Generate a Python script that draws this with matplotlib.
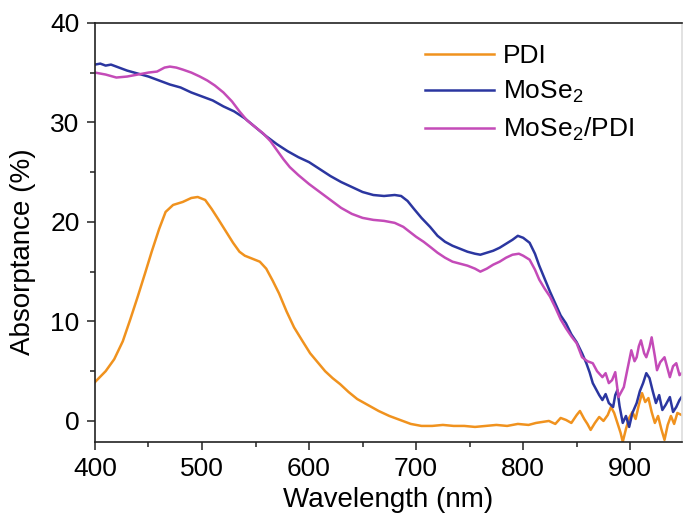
import matplotlib
matplotlib.use('Agg')
import matplotlib.pyplot as plt
from matplotlib.ticker import MultipleLocator

plt.rcParams['font.family'] = ['Liberation Sans', 'DejaVu Sans']
plt.rcParams['mathtext.fontset'] = 'custom'
plt.rcParams['mathtext.rm'] = 'Liberation Sans'

# absorptance spectra (%), wavelength in nm
wl_pdi = [400, 410, 418, 426, 433, 440, 447, 453, 460, 466, 473, 482, 490, 496, 503, 509, 515,
          522, 529, 535, 540, 547, 554, 560, 566, 572, 579, 586, 594, 601, 608, 615, 622, 629,
          637, 645, 655, 665, 675, 685, 695, 705, 715, 725, 735, 745, 755, 765, 775, 785, 795,
          805, 812, 818, 824, 830, 835, 840, 845, 850, 853, 857, 860, 863, 867, 871, 875, 879,
          882, 885, 888, 891, 893, 896, 899, 902, 905, 908, 911, 914, 917, 920, 923, 926, 929,
          932, 935, 938, 941, 944, 948]
abs_pdi = [3.9, 5.0, 6.2, 8.0, 10.2, 12.5, 14.9, 17.0, 19.3, 21.0, 21.7, 22.0, 22.4, 22.5, 22.2,
           21.3, 20.3, 19.1, 17.9, 17.0, 16.6, 16.3, 16.0, 15.3, 14.1, 12.8, 11.0, 9.4, 8.0, 6.8,
           5.9, 5.0, 4.3, 3.7, 2.9, 2.2, 1.6, 1.0, 0.5, 0.1, -0.3, -0.5, -0.5, -0.4, -0.5, -0.5,
           -0.6, -0.5, -0.4, -0.5, -0.3, -0.4, -0.2, -0.1, 0.0, -0.3, 0.3, 0.1, -0.2, 0.6, 1.0,
           0.2, -0.3, -0.9, -0.2, 0.4, 0.0, 0.6, 1.4, 0.8, -0.2, -1.2, -2.1, -0.8, 0.3, 0.9, 0.2,
           1.6, 2.8, 1.9, 2.3, 0.9, -0.2, 0.5, -0.8, -1.9, -0.4, 0.5, -0.3, 0.8, 0.6]

wl_mose2 = [400, 405, 410, 415, 420, 430, 440, 450, 460, 470, 480, 490, 500, 510, 520, 530, 540,
            550, 560, 570, 580, 590, 600, 610, 620, 630, 640, 650, 660, 670, 680, 686, 692, 698,
            705, 713, 720, 727, 734, 741, 748, 755, 760, 766, 772, 778, 784, 790, 795, 800, 806,
            811, 815, 820, 825, 830, 835, 840, 845, 850, 855, 859, 862, 865, 868, 871, 874, 877,
            880, 884, 886, 888, 890, 893, 896, 899, 902, 906, 909, 912, 915, 918, 921, 924, 927,
            930, 933, 937, 940, 943, 946, 948]
abs_mose2 = [35.8, 35.9, 35.7, 35.8, 35.6, 35.2, 34.9, 34.6, 34.2, 33.8, 33.5, 33.0, 32.6, 32.2,
             31.6, 31.1, 30.4, 29.5, 28.6, 27.8, 27.1, 26.5, 26.0, 25.3, 24.6, 24.0, 23.5, 23.0,
             22.7, 22.6, 22.7, 22.6, 22.1, 21.3, 20.4, 19.5, 18.6, 18.0, 17.6, 17.3, 17.0, 16.8,
             16.7, 16.9, 17.1, 17.4, 17.8, 18.2, 18.6, 18.4, 17.9, 16.8, 15.6, 14.3, 13.0, 11.8,
             10.6, 9.8, 8.7, 7.9, 6.8, 5.8, 4.9, 3.8, 3.2, 2.6, 2.1, 2.7, 1.8, 1.4, 2.6, 3.1, 1.5,
             -0.2, 0.5, -0.6, 0.8, 1.8, 3.0, 3.8, 4.8, 4.3, 3.0, 1.8, 2.6, 1.1, 1.6, 2.4, 0.9, 1.4,
             2.1, 2.4]

wl_mix = [400, 410, 420, 430, 440, 450, 458, 465, 470, 476, 482, 490, 498, 505, 512, 520, 528,
          535, 542, 550, 557, 564, 570, 576, 582, 590, 600, 610, 620, 630, 640, 650, 660, 670,
          680, 688, 694, 700, 707, 713, 720, 727, 734, 741, 748, 755, 760, 766, 772, 778, 784,
          790, 796, 800, 806, 811, 815, 820, 825, 830, 835, 840, 845, 850, 855, 860, 865, 869,
          874, 877, 880, 883, 886, 889, 892, 894, 897, 901, 904, 906, 908, 910, 913, 915, 918,
          920, 923, 925, 928, 932, 935, 937, 940, 943, 946, 948]
abs_mix = [35.0, 34.8, 34.5, 34.6, 34.8, 35.0, 35.1, 35.5, 35.6, 35.5, 35.3, 35.0, 34.6, 34.2,
           33.7, 33.0, 32.1, 31.1, 30.2, 29.5, 28.9, 28.1, 27.2, 26.3, 25.5, 24.7, 23.8, 23.0,
           22.2, 21.4, 20.8, 20.4, 20.2, 20.1, 19.9, 19.5, 19.0, 18.5, 18.0, 17.5, 16.9, 16.4,
           16.0, 15.8, 15.6, 15.3, 15.0, 15.3, 15.7, 16.0, 16.4, 16.7, 16.8, 16.6, 16.2, 15.2,
           14.2, 13.3, 12.5, 11.4, 10.2, 9.3, 8.5, 7.8, 6.4, 6.0, 5.8, 5.0, 4.4, 4.8, 3.8, 4.1,
           4.9, 2.4, 3.0, 3.4, 5.0, 7.1, 6.0, 6.4, 7.5, 8.1, 6.8, 6.4, 7.4, 8.4, 6.5, 5.1, 5.9,
           6.4, 5.2, 4.4, 5.5, 5.8, 4.6, 4.8]

fig = plt.figure(figsize=(6.83, 5.18), dpi=100)
ax = fig.add_axes([0.139, 0.147, 0.859, 0.809])

ax.plot(wl_pdi, abs_pdi, color='#f0921e', lw=1.8, label='PDI')
ax.plot(wl_mose2, abs_mose2, color='#2b36a0', lw=1.8, label=r'$\mathregular{MoSe_2}$')
ax.plot(wl_mix, abs_mix, color='#c44bb8', lw=1.8, label=r'$\mathregular{MoSe_2}$/PDI')

ax.set_xlim(400, 948)
ax.set_ylim(-2.1, 40)
ax.xaxis.set_major_locator(MultipleLocator(100))
ax.xaxis.set_minor_locator(MultipleLocator(50))
ax.yaxis.set_major_locator(MultipleLocator(10))
ax.yaxis.set_minor_locator(MultipleLocator(5))
ax.tick_params(which='major', direction='out', length=6, width=1.1, labelsize=19, pad=5, color='#222222')
ax.tick_params(which='minor', direction='out', length=3.5, width=1.1, color='#222222')
for s in ax.spines.values():
    s.set_linewidth(1.2)
    s.set_color('#222222')
ax.spines['right'].set_color('#dddddd')

ax.set_xlabel('Wavelength (nm)', fontsize=20, labelpad=4)
ax.set_ylabel('Absorptance (%)', fontsize=20)
ax.yaxis.set_label_coords(-0.10, 0.453)

ax.legend(loc='upper right', bbox_to_anchor=(0.955, 1.0), frameon=False, fontsize=19,
          handlelength=2.6, handletextpad=0.35, labelspacing=0.42, borderpad=0.3)

fig.savefig('out.png', dpi=100)
